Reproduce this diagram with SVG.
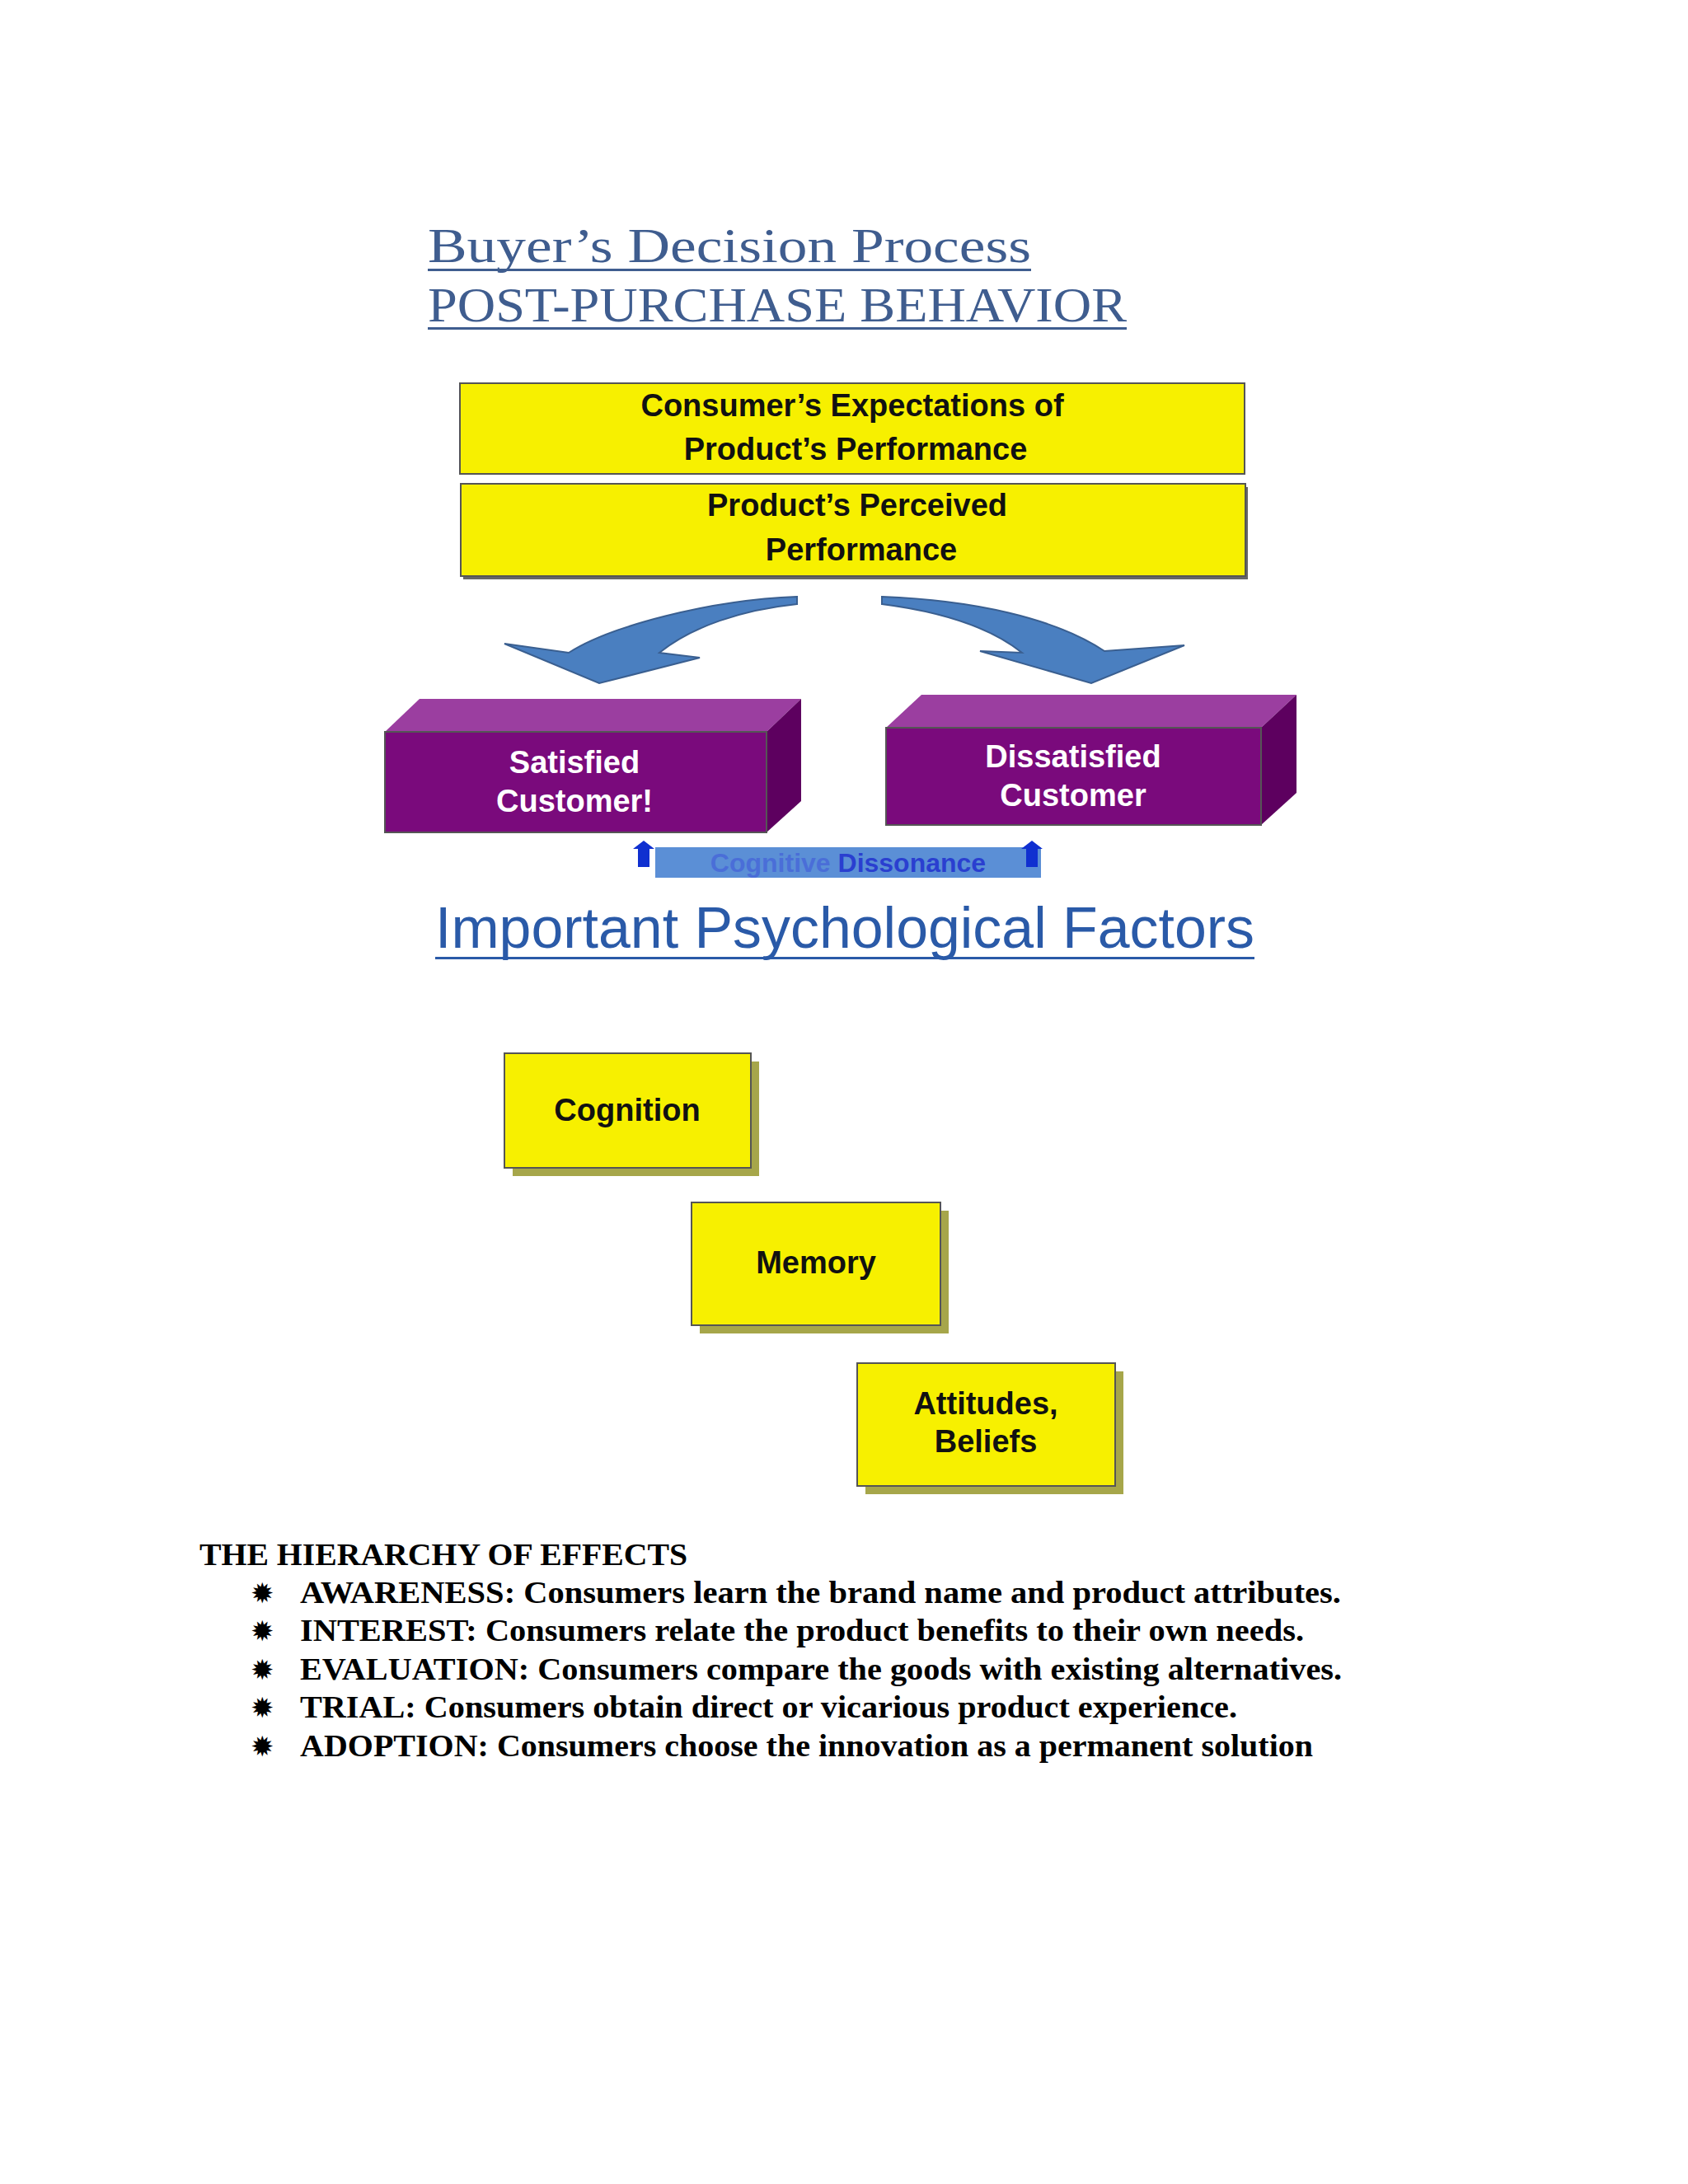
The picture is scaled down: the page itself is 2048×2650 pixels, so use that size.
<svg xmlns="http://www.w3.org/2000/svg" width="2048" height="2650" viewBox="0 0 2048 2650">
<defs>
<style>
.t{font-family:"Liberation Serif",serif;font-weight:bold;font-size:37px;fill:#000}
.h{font-family:"Liberation Sans",Arial,sans-serif;font-weight:bold;fill:#111;text-anchor:middle}
.w{font-family:"Liberation Sans",Arial,sans-serif;font-weight:bold;fill:#fff;text-anchor:middle;font-size:38px}
.y{fill:#f7f000;stroke:#555;stroke-width:2}
.sh{fill:#a6a64a}
.arr{fill:#4a7fc0;stroke:#3a5f90;stroke-width:2}
</style>
</defs>
<rect width="2048" height="2650" fill="#fff"/>
<g id="title" font-family="'Liberation Serif',serif" fill="#3f5d8f" font-size="60">
<text x="519" y="318" textLength="732" lengthAdjust="spacingAndGlyphs">Buyer’s Decision Process</text>
<rect x="519" y="326" width="732" height="3"/>
<text x="519" y="390" textLength="848" lengthAdjust="spacingAndGlyphs">POST-PURCHASE BEHAVIOR</text>
<rect x="519" y="397" width="848" height="3"/>
</g>
<g id="expect"><rect class="y" x="558" y="465" width="952" height="110"/>
<text class="h" font-size="38" x="1034" y="505">Consumer’s Expectations of</text>
<text class="h" font-size="38" x="1038" y="558">Product’s Performance</text></g>
<g id="perceived"><rect x="562" y="591" width="952" height="112" fill="#666"/><rect class="y" x="559" y="587" width="952" height="112"/>
<text class="h" font-size="38" x="1040" y="626">Product’s Perceived</text>
<text class="h" font-size="38" x="1045" y="680">Performance</text></g>
<g id="connectors">
<path class="arr" d="M967,724 C860,728 740,760 690,792 L612,781 L727,829 L849,798 L800,792 C840,760 900,740 967,733 Z"/>
<path class="arr" d="M1070,724 C1180,728 1280,750 1340,790 L1437,783 L1324,829 L1189,790 L1240,792 C1200,760 1140,742 1070,733 Z"/>
</g>
<g id="satisfied">
<polygon points="467,888 930,888 972,848 509,848" fill="#9b3ea0"/>
<polygon points="930,888 972,848 972,972 930,1010" fill="#5d005f"/>
<rect x="467" y="888" width="463" height="122" fill="#7a0a7c" stroke="#555" stroke-width="2"/>
<text class="w" x="697" y="938">Satisfied</text>
<text class="w" x="697" y="985">Customer!</text>
</g>
<g id="dissatisfied">
<polygon points="1075,883 1530,883 1573,843 1118,843" fill="#9b3ea0"/>
<polygon points="1530,883 1573,843 1573,962 1530,1001" fill="#5d005f"/>
<rect x="1075" y="883" width="455" height="118" fill="#7a0a7c" stroke="#555" stroke-width="2"/>
<text class="w" x="1302" y="931">Dissatisfied</text>
<text class="w" x="1302" y="978">Customer</text>
</g>
<g id="dissonance">
<rect x="795" y="1028" width="468" height="37" fill="#5b8fd6"/>
<text x="1029" y="1058" font-family="'Liberation Sans',Arial,sans-serif" font-weight="bold" font-size="32" text-anchor="middle" fill="#2a3fd0"><tspan fill="#4a6ed8">Cognitive </tspan>Dissonance</text>
<path d="M774,1052 L774,1030 L768,1030 L781,1020 L794,1030 L788,1030 L788,1052 Z" fill="#1030d0"/>
<path d="M1245,1052 L1245,1030 L1239,1030 L1252,1020 L1265,1030 L1259,1030 L1259,1052 Z" fill="#1030d0"/>
</g>
<g id="factors">
<text x="528" y="1150" font-family="'Liberation Sans',Arial,sans-serif" font-size="70" fill="#2a5aa8" textLength="994" lengthAdjust="spacingAndGlyphs">Important Psychological Factors</text>
<rect x="528" y="1161" width="994" height="3" fill="#2a5aa8"/>
</g>
<g id="cognition"><rect class="sh" x="622" y="1288" width="299" height="139"/><rect class="y" x="612" y="1278" width="299" height="139"/>
<text class="h" font-size="38" x="761" y="1360">Cognition</text></g>
<g id="memory"><rect class="sh" x="849" y="1469" width="302" height="149"/><rect class="y" x="839" y="1459" width="302" height="149"/>
<text class="h" font-size="38" x="990" y="1545">Memory</text></g>
<g id="attitudes"><rect class="sh" x="1050" y="1664" width="313" height="149"/><rect class="y" x="1040" y="1654" width="313" height="149"/>
<text class="h" font-size="38" x="1196" y="1716">Attitudes,</text>
<text class="h" font-size="38" x="1196" y="1762">Beliefs</text></g>
<g id="hierarchy">
<text class="t" x="242" y="1899" textLength="592" lengthAdjust="spacingAndGlyphs">THE HIERARCHY OF EFFECTS</text>
<g font-family="'DejaVu Sans',sans-serif" font-size="34" fill="#000">
<text x="304" y="1945">✹</text><text x="304" y="1991">✹</text><text x="304" y="2038">✹</text><text x="304" y="2084">✹</text><text x="304" y="2131">✹</text>
</g>
<text class="t" x="364" y="1945" textLength="1263" lengthAdjust="spacingAndGlyphs">AWARENESS:  Consumers learn the brand  name and product  attributes.</text>
<text class="t" x="364" y="1991" textLength="1218" lengthAdjust="spacingAndGlyphs">INTEREST: Consumers  relate the product  benefits to their own needs.</text>
<text class="t" x="364" y="2038" textLength="1264" lengthAdjust="spacingAndGlyphs">EVALUATION:  Consumers  compare  the goods with  existing alternatives.</text>
<text class="t" x="364" y="2084" textLength="1137" lengthAdjust="spacingAndGlyphs">TRIAL: Consumers obtain direct or vicarious product  experience.</text>
<text class="t" x="364" y="2131" textLength="1229" lengthAdjust="spacingAndGlyphs">ADOPTION: Consumers  choose the innovation  as a permanent  solution</text>
</g>
</svg>
